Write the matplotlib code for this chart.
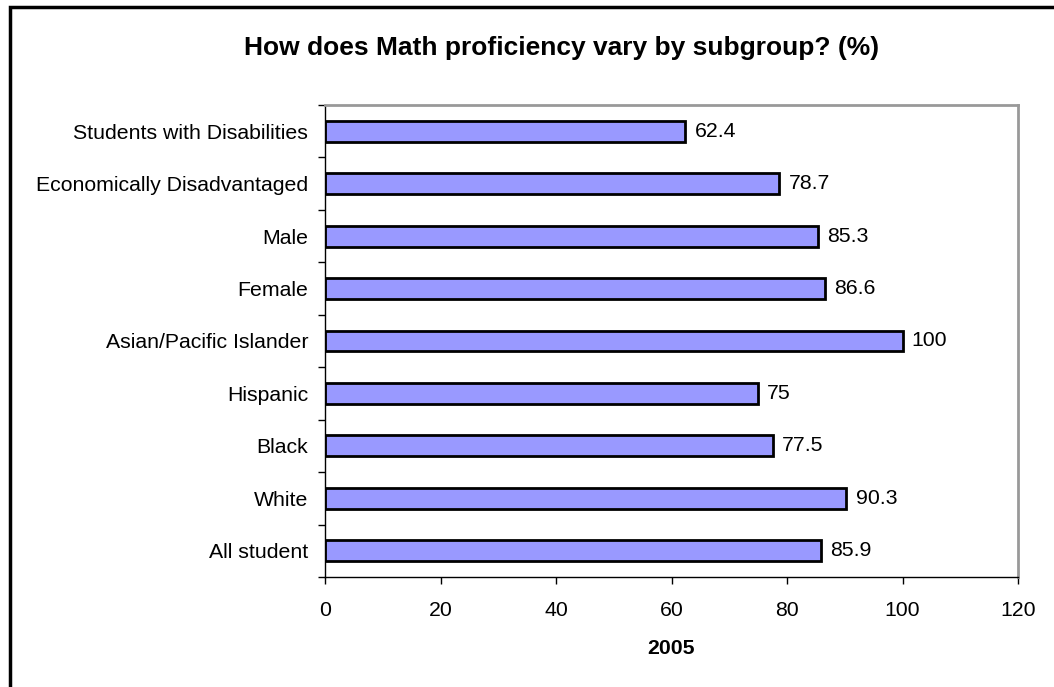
import matplotlib.pyplot as plt
from matplotlib.patches import Rectangle

plt.rcParams['font.family'] = ['Liberation Sans', 'DejaVu Sans']

# subgroups, bottom to top
groups = ['All student', 'White', 'Black', 'Hispanic', 'Asian/Pacific Islander',
          'Female', 'Male', 'Economically Disadvantaged', 'Students with Disabilities']
values = [85.9, 90.3, 77.5, 75, 100, 86.6, 85.3, 78.7, 62.4]
xticks = [0, 20, 40, 60, 80, 100, 120]

FS = 15.3

fig = plt.figure(figsize=(10.54, 6.87), dpi=100)
ax = fig.add_axes([325 / 1054, 1 - 577 / 687, (1018 - 325) / 1054, (577 - 105) / 687])

# outer frame (only left/top edges fall inside the canvas)
fig.patches.append(Rectangle((10 / 1054, -0.1), 1.2, 1 - 7 / 687 + 0.1,
                             transform=fig.transFigure, fill=False,
                             edgecolor='black', linewidth=2.5))

pos = range(len(groups))
ax.barh(pos, values, height=0.4, color='#9999FF', edgecolor='black', linewidth=2)
for y, v in zip(pos, values):
    ax.text(v + 1.6, y, f'{v:g}', va='center', ha='left', fontsize=FS)

ax.set_xlim(0, 120)
ax.set_ylim(-0.5, len(groups) - 0.5)
ax.set_xticks(xticks)
ax.set_xticklabels([str(t) for t in xticks], fontsize=FS)
ax.set_yticks([p - 0.5 for p in range(len(groups) + 1)], minor=False)
ax.set_yticklabels([])
ax.set_yticks(list(pos), minor=True)
ax.set_yticklabels(groups, minor=True, fontsize=FS)
ax.tick_params(axis='y', which='minor', length=0, pad=12)
ax.tick_params(axis='y', which='major', direction='out', length=5, width=1)
ax.tick_params(axis='x', direction='out', length=5, width=1, pad=12)

for s in ['top', 'right']:
    ax.spines[s].set_color('#999999')
    ax.spines[s].set_linewidth(2)
for s in ['left', 'bottom']:
    ax.spines[s].set_color('black')
    ax.spines[s].set_linewidth(1)

ax.set_xlabel('2005', fontsize=FS, fontweight='bold', labelpad=14)
fig.text(562 / 1054, 1 - 48 / 687, 'How does Math proficiency vary by subgroup? (%)',
         ha='center', va='center', fontsize=19, fontweight='bold')

fig.savefig('out.png', dpi=100, facecolor='white')
